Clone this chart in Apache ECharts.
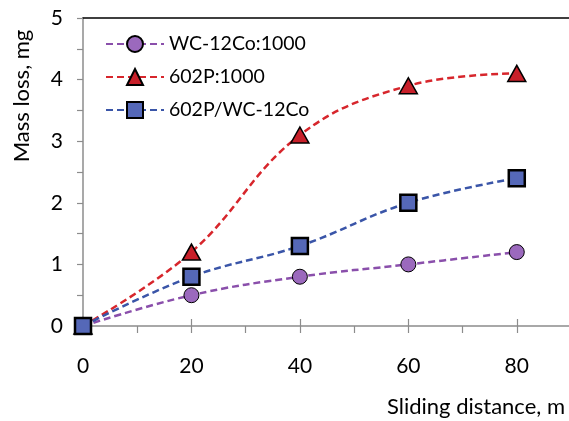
<!DOCTYPE html>
<html>
<head>
<meta charset="utf-8">
<script src="https://cdn.jsdelivr.net/npm/echarts@6/dist/echarts.min.js"></script>
<style>
  html, body { margin: 0; padding: 0; background: #fff; }
  #chart { width: 569px; height: 421px; }
</style>
</head>
<body>
<div id="chart"></div>
<script>
// sliding distance (m)
var distance = [0, 20, 40, 60, 80];
// mass loss (mg)
var wc12co = [0, 0.5, 0.8, 1.0, 1.2];
var p602 = [0, 1.2, 3.1, 3.9, 4.1];
var p602wc = [0, 0.8, 1.3, 2.0, 2.4];
var seriesNames = ["WC-12Co:1000", "602P:1000", "602P/WC-12Co"];

function pairs(ys) {
  return distance.map(function (x, i) { return [x, ys[i]]; });
}

var font = "Lato";
var axisGray = "#8c8c8c";

var myChart = echarts.init(document.getElementById("chart"));
var option = {
  animation: false,
  textStyle: { fontFamily: font },
  grid: { left: 83, width: 488, top: 18, bottom: 95, containLabel: false, outerBoundsMode: "none" },
  legend: {
    left: 100,
    top: 29,
    orient: "vertical",
    itemGap: 13,
    itemWidth: 58,
    itemHeight: 20,
    textStyle: { fontSize: 19.5, color: "#000", fontFamily: font },
    data: seriesNames,
  },
  graphic: [
    {
      type: "text",
      x: 22,
      y: 96,
      rotation: Math.PI / 2,
      style: {
        text: "Mass loss, mg",
        fontSize: 22,
        fontFamily: font,
        fill: "#000",
        align: "center",
        verticalAlign: "middle",
      },
    },
  ],
  xAxis: [
    {
      type: "value",
      min: 0,
      max: 90,
      interval: 10,
      name: "Sliding distance, m",
      nameLocation: "end",
      nameGap: 0,
      nameTextStyle: {
        fontSize: 22,
        color: "#000",
        align: "right",
        verticalAlign: "top",
        padding: [70, 6, 0, 0],
      },
      axisLine: { show: true, lineStyle: { color: axisGray, width: 1.5 } },
      axisTick: { show: true, inside: false, length: 7, lineStyle: { color: axisGray, width: 1.2 } },
      axisLabel: {
        fontSize: 21,
        color: "#000",
        margin: 30,
        formatter: function (v) { return v % 20 === 0 && v < 90 ? String(v) : ""; },
      },
      splitLine: { show: false },
    },
    {
      type: "value",
      min: 0,
      max: 90,
      interval: 20,
      position: "bottom",
      axisLine: { show: false },
      axisTick: { show: true, inside: true, length: 7, lineStyle: { color: axisGray, width: 1.2 } },
      axisLabel: { show: false },
      splitLine: { show: false },
    },
    {
      type: "value",
      min: 0,
      max: 90,
      position: "top",
      axisLine: { show: true, lineStyle: { color: "#000", width: 1.5 } },
      axisTick: { show: false },
      axisLabel: { show: false },
      splitLine: { show: false },
    },
  ],
  yAxis: {
    type: "value",
    min: 0,
    max: 5,
    interval: 0.5,
    axisLine: { show: true, lineStyle: { color: axisGray, width: 1.5 } },
    axisTick: { show: true, inside: false, length: 6, lineStyle: { color: axisGray, width: 1.2 } },
    axisLabel: {
      fontSize: 21,
      color: "#000",
      margin: 20,
      formatter: function (v) { return Number.isInteger(v) ? String(v) : ""; },
    },
    splitLine: { show: false },
  },
  series: [
    {
      name: seriesNames[0],
      type: "line",
      smooth: 0.4,
      data: pairs(wc12co),
      symbol: "circle",
      symbolSize: 15,
      lineStyle: { color: "#8a4fab", width: 2.5, type: [7, 4] },
      itemStyle: { color: "#9b69bd", borderColor: "#000", borderWidth: 1 },
      z: 2,
    },
    {
      name: seriesNames[1],
      type: "line",
      smooth: 0.4,
      data: pairs(p602),
      symbol: "triangle",
      symbolSize: [18, 16],
      lineStyle: { color: "#d7262c", width: 2.5, type: [7, 4] },
      itemStyle: { color: "#c8202a", borderColor: "#000", borderWidth: 1.5 },
      z: 3,
    },
    {
      name: seriesNames[2],
      type: "line",
      smooth: 0.4,
      data: pairs(p602wc),
      symbol: "rect",
      symbolSize: 16,
      lineStyle: { color: "#3a55a8", width: 2.5, type: [7, 4] },
      itemStyle: { color: "#5568b8", borderColor: "#000", borderWidth: 2.5 },
      z: 4,
    },
  ],
};
myChart.setOption(option);
</script>
</body>
</html>
